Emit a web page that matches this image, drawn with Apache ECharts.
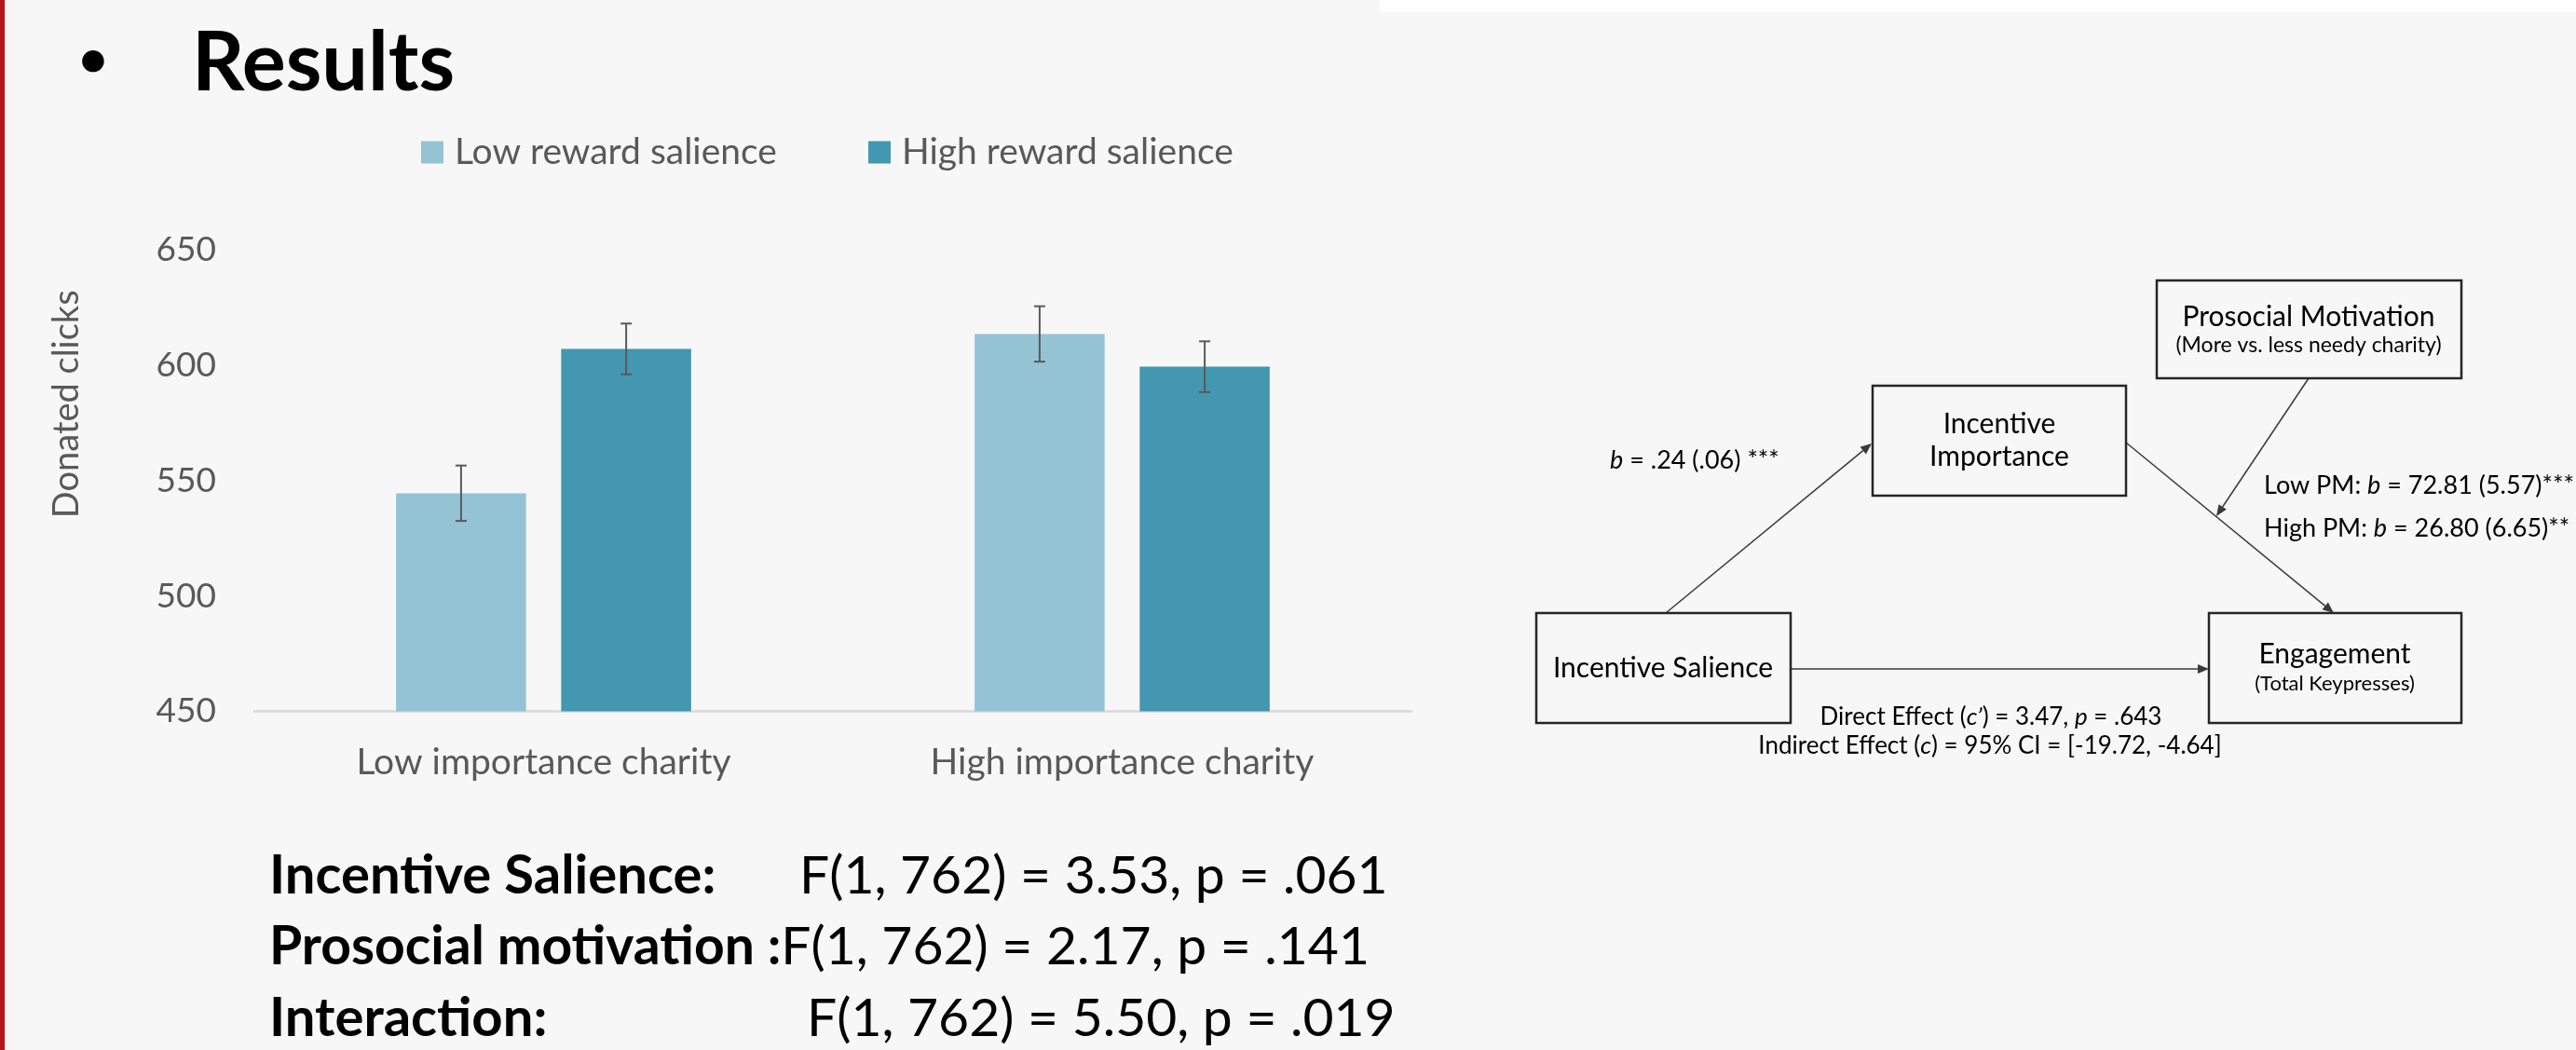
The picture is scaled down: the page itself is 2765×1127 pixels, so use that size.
<!DOCTYPE html>
<html>
<head>
<meta charset="utf-8">
<script src="https://cdn.jsdelivr.net/npm/echarts@6/dist/echarts.min.js"></script>
<style>
  html, body { margin: 0; padding: 0; background: #f7f7f7; overflow: hidden; }
  #chart { width: 2765px; height: 1127px; }
</style>
</head>
<body>
<div id="chart"></div>
<script>
// ---- data ----
const categories = ['Low importance charity', 'High importance charity'];
const seriesNames = ['Low reward salience', 'High reward salience'];
const lowSalienceMeans = [544.5, 613.5];
const highSalienceMeans = [607, 599.3];
const lowSalienceErr = [12, 12];
const highSalienceErr = [11, 11];
const yMin = 450, yMax = 650, yStep = 50;
const yAxisTitle = 'Donated clicks';

const statLabels = ['Incentive Salience:', 'Prosocial motivation :', 'Interaction:'];
const statValues = ['F(1, 762) = 3.53, p = .061', 'F(1, 762) = 2.17, p = .141', 'F(1, 762) = 5.50, p = .019'];

// ---- styling ----
const FONT = 'Lato, "Open Sans", "Noto Sans", sans-serif';
const GREY = '#595959';
const COLORS = ['#94c3d4', '#4397b0'];
const CAT_GAP = 0.49, BAR_GAP = 0.27;

// error whiskers placed over the bars of one series (side -1 = left bar, +1 = right bar)
function whiskers(side) {
  return function (params, api) {
    const cat = api.value(0), mean = api.value(1), err = api.value(2);
    const band = api.size([1, 0])[0];
    const barW = band * (1 - CAT_GAP) / (2 + BAR_GAP);
    const off = side * barW * (1 + BAR_GAP) / 2;
    const hi = api.coord([cat, mean + err]);
    const lo = api.coord([cat, mean - err]);
    const x = hi[0] + off, cap = 6;
    const st = { stroke: GREY, lineWidth: 2 };
    return {
      type: 'group',
      children: [
        { type: 'line', shape: { x1: x, y1: hi[1], x2: x, y2: lo[1] }, style: st },
        { type: 'line', shape: { x1: x - cap, y1: hi[1], x2: x + cap, y2: hi[1] }, style: st },
        { type: 'line', shape: { x1: x - cap, y1: lo[1], x2: x + cap, y2: lo[1] }, style: st }
      ]
    };
  };
}

function errData(means, errs) {
  return means.map((m, i) => [i, m, errs[i]]);
}

// text placed by its alphabetic baseline
function txt(str, x, baseline, size, o) {
  o = o || {};
  const fill = o.fill || '#000';
  const weight = o.weight || 'normal';
  const align = o.align || 'left';
  const rich = {
    n: { fontSize: size, fontFamily: FONT, fontWeight: weight, fill: fill, color: fill },
    i: { fontSize: size, fontFamily: FONT, fontWeight: weight, fontStyle: 'italic', fill: fill, color: fill },
    b: { fontSize: size, fontFamily: FONT, fontWeight: 'bold', fill: fill, color: fill }
  };
  return {
    type: 'text',
    silent: true,
    style: {
      text: str,
      x: x,
      y: baseline - 0.33 * size,
      fontSize: size,
      fontFamily: FONT,
      fontWeight: weight,
      fill: fill,
      align: align, textAlign: align,
      verticalAlign: 'middle', textVerticalAlign: 'middle',
      rich: o.rich ? rich : undefined
    }
  };
}

function box(x, y, w, h) {
  return {
    type: 'rect', silent: true,
    shape: { x: x, y: y, width: w, height: h },
    style: { fill: '#f7f7f7', stroke: '#262626', lineWidth: 2.5 }
  };
}

function arrow(x1, y1, x2, y2) {
  const a = Math.atan2(y2 - y1, x2 - x1), L = 12, W = 5;
  const bx = x2 - L * Math.cos(a), by = y2 - L * Math.sin(a);
  return [
    { type: 'line', silent: true, shape: { x1: x1, y1: y1, x2: bx, y2: by }, style: { stroke: '#3a3a3a', lineWidth: 1.5 } },
    { type: 'polygon', silent: true,
      shape: { points: [[x2, y2], [bx + W * Math.sin(a), by - W * Math.cos(a)], [bx - W * Math.sin(a), by + W * Math.cos(a)]] },
      style: { fill: '#3a3a3a' } }
  ];
}

// mediation diagram
const diagram = [].concat(
  arrow(1788, 658, 2009, 476),
  arrow(2282, 475, 2505, 658),
  arrow(2478, 406, 2379, 554),
  arrow(1922, 718, 2371, 718),
  [
    box(2315, 301, 327, 105),
    box(2010, 414, 272, 118),
    box(1649, 658, 273, 118),
    box(2371, 658, 271, 118),
    txt('Prosocial Motivation', 2478, 350, 30, { align: 'center' }),
    txt('(More vs. less needy charity)', 2478, 378, 23, { align: 'center' }),
    txt('Incentive', 2146, 465, 30, { align: 'center' }),
    txt('Importance', 2146, 500, 30, { align: 'center' }),
    txt('Incentive Salience', 1785, 727, 30, { align: 'center' }),
    txt('Engagement', 2506, 712, 30, { align: 'center' }),
    txt('(Total Keypresses)', 2506, 741, 22, { align: 'center' }),
    txt('{i|b}{n| = .24 (.06) ***}', 1728, 503, 27, { rich: true }),
    txt('{n|Low PM: }{i|b}{n| = 72.81 (5.57)***}', 2430, 530, 27, { rich: true }),
    txt('{n|High PM: }{i|b}{n| = 26.80 (6.65)**}', 2430, 576, 27, { rich: true }),
    txt('{n|Direct Effect (}{i|c\u2019}{n|) = 3.47, }{i|p}{n| = .643}', 2137, 778, 26, { rich: true, align: 'center' }),
    txt('{n|Indirect Effect (}{i|c}{n|) = 95% CI = [-19.72, -4.64]}', 2136, 809, 26, { rich: true, align: 'center' })
  ]
);

const statRows = [
  txt(statLabels[0], 289, 959, 58, { weight: 'bold' }),
  txt(statValues[0], 858, 959, 57),
  txt('{b|' + statLabels[1] + '}{n|' + statValues[1] + '}', 289, 1035, 57, { rich: true }),
  txt(statLabels[2], 289, 1112, 58, { weight: 'bold' }),
  txt(statValues[2], 866, 1112, 57)
];

const chart = echarts.init(document.getElementById('chart'), null, { renderer: 'canvas' });
chart.setOption({
  backgroundColor: '#f7f7f7',
  animation: false,
  textStyle: { fontFamily: FONT },
  legend: [
    {
      data: [seriesNames[0]], left: 452, top: 144, padding: 0,
      icon: 'rect', itemWidth: 24, itemHeight: 24,
      textStyle: { fontSize: 39, color: GREY, padding: [0, 0, 0, 7] }
    },
    {
      data: [seriesNames[1]], left: 932, top: 144, padding: 0,
      icon: 'rect', itemWidth: 24, itemHeight: 24,
      textStyle: { fontSize: 39, color: GREY, padding: [0, 0, 0, 7] }
    }
  ],
  grid: { left: 273, right: 1250, top: 268, bottom: 363.5, containLabel: false },
  xAxis: {
    type: 'category',
    data: categories,
    axisLine: { lineStyle: { color: '#d9d9d9', width: 2.5 } },
    axisTick: { show: false },
    axisLabel: { fontSize: 39, color: GREY, margin: 35 }
  },
  yAxis: {
    type: 'value',
    min: yMin, max: yMax, interval: yStep,
    axisLine: { show: false },
    axisTick: { show: false },
    splitLine: { show: false },
    axisLabel: { fontSize: 37, color: GREY, margin: 41 },
    name: yAxisTitle,
    nameLocation: 'middle',
    nameRotate: 90,
    nameGap: 182,
    nameTextStyle: { fontSize: 38, color: GREY, padding: [0, 0, 0, 164] }
  },
  series: [
    {
      name: seriesNames[0], type: 'bar', data: lowSalienceMeans,
      itemStyle: { color: COLORS[0] },
      barCategoryGap: (CAT_GAP * 100) + '%', barGap: (BAR_GAP * 100) + '%'
    },
    {
      name: seriesNames[1], type: 'bar', data: highSalienceMeans,
      itemStyle: { color: COLORS[1] },
      barCategoryGap: (CAT_GAP * 100) + '%', barGap: (BAR_GAP * 100) + '%'
    },
    {
      type: 'custom', name: 'err-low', z: 5, silent: true,
      renderItem: whiskers(-1), data: errData(lowSalienceMeans, lowSalienceErr)
    },
    {
      type: 'custom', name: 'err-high', z: 5, silent: true,
      renderItem: whiskers(1), data: errData(highSalienceMeans, highSalienceErr)
    }
  ],
  graphic: [
    { type: 'rect', silent: true, shape: { x: 0, y: 0, width: 5, height: 1127 }, style: { fill: '#b5161c' } },
    { type: 'rect', silent: true, shape: { x: 1481, y: 0, width: 1284, height: 13 }, style: { fill: '#ffffff' } },
    txt('\u2022', 100, 82, 54, { weight: 'bold', align: 'center' }),
    txt('Results', 206, 98, 88, { weight: 'bold' })
  ].concat(statRows, diagram)
});
</script>
</body>
</html>
